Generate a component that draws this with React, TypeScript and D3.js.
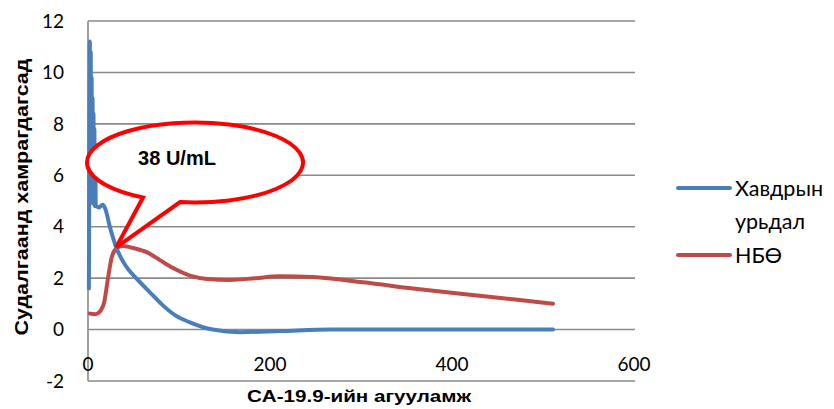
import React from "react";
import * as d3 from "d3";

// CA-19.9 concentration (U/mL) on the x axis
const cancerX = [1, 2, 2.5, 3, 3.5, 4, 4.5, 5, 5.5, 6, 6.5, 7, 7.5, 8, 8.5, 9, 12, 16, 19, 24, 31, 41, 54, 68, 82, 96, 112, 137, 167, 211, 266, 350, 430, 511];
const cancerY = [1.6, 11.2, 5.5, 10.8, 5.2, 9.8, 5.0, 9.0, 4.9, 8.4, 4.9, 7.8, 4.8, 7.2, 4.8, 4.8, 4.75, 4.85, 4.7, 4.0, 3.2, 2.5, 1.96, 1.45, 0.95, 0.55, 0.28, 0.0, -0.1, -0.06, 0.0, 0.0, 0.0, 0.0];

const benignX = [2, 8, 13, 18, 22, 26, 31, 38, 52, 65, 79, 93, 112, 131, 156, 184, 211, 247, 302, 357, 412, 467, 511];
const benignY = [0.62, 0.6, 0.7, 1.1, 2.0, 2.8, 3.15, 3.25, 3.15, 3.0, 2.7, 2.4, 2.1, 1.97, 1.93, 2.0, 2.07, 2.04, 1.84, 1.6, 1.38, 1.18, 1.0];

const xTicks = [0, 200, 400, 600];
const yTicks = [-2, 0, 2, 4, 6, 8, 10, 12];

const seriesNames = ["Хавдрын урьдал", "НБӨ"];
const xTitle = "CA-19.9-ийн агууламж";
const yTitle = "Судалгаанд хамрагдагсад";
const calloutText = "38 U/mL";
const calloutPoint = { x: 31, y: 3.2 };

const W = 834;
const H = 409;
const BLUE = "#4A7EBB";
const RED = "#BE4B48";
const GRID = "#8A8A8A";

export default function App() {
  const x = d3.scaleLinear().domain([0, 600]).range([88, 634]);
  const y = d3.scaleLinear().domain([-2, 12]).range([381, 21]);

  const line = d3
    .line<[number, number]>()
    .x((d) => x(d[0]))
    .y((d) => y(d[1]))
    .curve(d3.curveMonotoneX);

  const cancer = cancerX.map((v, i) => [v, cancerY[i]] as [number, number]);
  const benign = benignX.map((v, i) => [v, benignY[i]] as [number, number]);

  // speech-bubble callout: ellipse with a wedge pointing at the crossing point
  const cx = 195, cy = 162.5, rx = 108, ry = 40;
  const tip = [x(calloutPoint.x), y(calloutPoint.y)];
  const ptAt = (px: number) => {
    const c = (px - cx) / rx;
    return [px, cy + ry * Math.sqrt(1 - c * c)];
  };
  const a = ptAt(143);
  const b = ptAt(180);
  const bubble = `M${b[0]},${b[1]} A${rx},${ry} 0 1 0 ${a[0]},${a[1]} L${tip[0]},${tip[1]} Z`;

  const tickFont = "Lato, 'Open Sans', sans-serif";
  const titleFont = "'Liberation Sans', Arial, sans-serif";

  return (
    <svg
      width={W}
      height={H}
      style={{ position: "absolute", left: 0, top: 0, background: "#fff" }}
    >
      {/* horizontal gridlines */}
      {yTicks.map((t) => (
        <line key={t} x1={x(0)} x2={635} y1={y(t)} y2={y(t)} stroke={GRID} strokeWidth={1.6} />
      ))}
      {/* vertical axis */}
      <line x1={x(0)} x2={x(0)} y1={y(12)} y2={y(-2)} stroke={GRID} strokeWidth={1.6} />

      {/* y tick labels */}
      {yTicks.map((t) => (
        <text key={t} x={64} y={y(t)} dy="0.35em" textAnchor="end" fontFamily={tickFont} fontSize={19} fill="#000">
          {t}
        </text>
      ))}
      {/* x tick labels */}
      {xTicks.map((t) => (
        <text key={t} x={x(t)} y={364} dy="0.35em" textAnchor="middle" fontFamily={tickFont} fontSize={19} fill="#000">
          {t}
        </text>
      ))}

      {/* series */}
      <path d={line(benign) || ""} fill="none" stroke={RED} strokeWidth={4} strokeLinejoin="round" strokeLinecap="round" />
      <path d={line(cancer) || ""} fill="none" stroke={BLUE} strokeWidth={4} strokeLinejoin="round" strokeLinecap="round" />

      {/* callout */}
      <path d={bubble} fill="#fff" stroke="#FF0000" strokeWidth={4} strokeLinejoin="miter" />
      <text x={177} y={158} dy="0.35em" textAnchor="middle" fontFamily={titleFont} fontWeight="bold" fontSize={20} fill="#000">
        {calloutText}
      </text>

      {/* axis titles */}
      <text x={359} y={396} dy="0.35em" textAnchor="middle" fontFamily={titleFont} fontWeight="bold" fontSize={16} textLength={224} lengthAdjust="spacingAndGlyphs" fill="#000">
        {xTitle}
      </text>
      <text transform={`translate(22,197) rotate(-90)`} textAnchor="middle" dy="0.35em" fontFamily={titleFont} fontWeight="bold" fontSize={18} textLength={277} lengthAdjust="spacingAndGlyphs" fill="#000">
        {yTitle}
      </text>

      {/* legend */}
      <line x1={678} x2={730} y1={188} y2={188} stroke={BLUE} strokeWidth={4} strokeLinecap="round" />
      <text x={735} y={188} dy="0.35em" fontFamily={tickFont} fontSize={21.5} fill="#000">
        {seriesNames[0].split(" ")[0]}
      </text>
      <text x={735} y={221} dy="0.35em" fontFamily={tickFont} fontSize={21.5} fill="#000">
        {seriesNames[0].split(" ")[1]}
      </text>
      <line x1={678} x2={730} y1={255} y2={255} stroke={RED} strokeWidth={4} strokeLinecap="round" />
      <text x={735} y={255} dy="0.35em" fontFamily={tickFont} fontSize={21.5} fill="#000">
        {seriesNames[1]}
      </text>
    </svg>
  );
}
